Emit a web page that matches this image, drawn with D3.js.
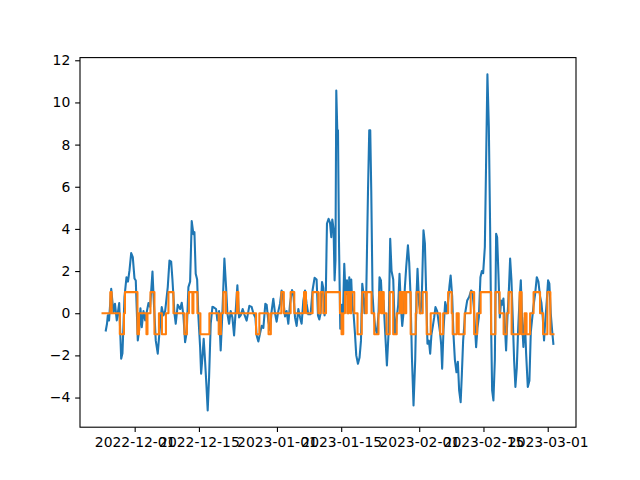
<!DOCTYPE html>
<html><head><meta charset="utf-8">
<script src="https://cdn.jsdelivr.net/npm/d3@7"></script>
<style>
body{margin:0;background:#fff}
text{font-family:"DejaVu Sans",sans-serif;font-size:13.9px;fill:#000}
</style></head>
<body><svg id="c" width="640" height="480"></svg>
<script>
const startDate = "2022-11-24";
const blueDays = [0.71,0.97,1.15,1.41,1.89,2.17,2.39,2.71,3.10,3.63,4.06,4.34,4.78,5.22,5.54,5.87,6.24,6.59,6.96,7.24,7.68,7.98,8.26,8.55,8.92,9.29,10.00,10.37,10.88,11.16,11.59,12.03,12.33,12.90,13.27,13.64,14.21,14.58,14.95,15.23,15.66,15.95,16.38,16.91,17.25,17.62,17.99,18.34,18.71,19.08,19.43,19.80,20.02,20.30,20.61,20.89,21.26,21.48,21.76,22.04,22.35,22.63,22.91,23.22,23.57,23.94,24.15,24.74,25.02,25.39,25.74,26.11,26.55,26.92,27.20,27.57,27.92,28.29,28.66,29.01,29.38,29.75,30.10,30.53,30.90,31.40,31.99,32.49,32.86,33.30,33.58,33.95,34.32,34.67,35.04,35.47,35.76,36.13,36.50,36.84,37.21,37.58,37.93,38.30,38.67,39.02,39.39,39.76,40.11,40.48,40.85,41.29,41.57,41.94,42.29,42.66,43.03,43.38,43.75,44.12,44.46,44.83,45.33,45.77,46.20,46.64,46.94,47.23,47.51,47.82,48.10,48.38,48.60,48.90,49.25,49.56,49.84,50.06,50.34,50.56,50.75,50.93,51.15,51.30,51.52,51.80,52.08,52.39,52.67,52.95,53.26,53.54,53.76,53.98,54.19,54.41,54.69,55.00,55.28,55.65,56.00,56.31,56.59,56.87,57.09,57.46,57.83,58.11,58.33,58.55,58.83,59.05,59.42,59.79,60.14,60.35,60.66,60.94,61.23,61.60,61.96,62.31,62.68,62.97,63.34,63.71,64.06,64.42,64.71,65.01,65.30,65.58,65.88,66.17,66.54,66.82,67.10,67.41,67.76,68.13,68.41,68.63,68.99,69.28,69.58,69.93,70.24,70.59,70.80,71.11,71.39,71.67,71.98,72.26,72.54,72.91,73.28,73.57,73.79,74.00,74.29,74.66,75.03,75.31,75.59,75.85,76.18,76.46,76.77,77.12,77.42,77.70,78.03,78.29,78.57,79.01,79.45,79.88,80.31,80.60,80.90,81.40,81.69,81.99,82.34,82.65,82.93,83.30,83.58,83.86,84.17,84.45,84.67,84.89,85.17,85.48,85.76,85.98,86.26,86.56,86.85,87.13,87.35,87.65,87.93,88.22,88.52,88.81,89.09,89.39,89.68,89.96,90.26,90.55,90.83,91.14,91.42,91.70,92.01,92.29,92.66,93.01,93.31,93.59,93.88,94.25,94.62,94.97,95.33,95.62,95.92,96.20,96.49,96.80,97.08,97.36,97.66,97.95,98.23];
const blueValues = [-0.82,-0.5,-0.1,-0.35,1.16,0.5,0.05,0.45,-0.34,0.48,-2.16,-1.9,0.77,1.71,1.5,2.03,2.85,2.66,1.65,1.55,-1.29,-0.8,0.23,-0.66,0.1,-0.34,0.48,0.3,1.98,0.6,-1.29,-1.92,-1.1,0.29,-0.1,0.1,1.24,2.5,2.45,1.6,0.0,-0.5,0.4,0.2,0.5,-0.1,-1.37,-0.9,1.24,1.5,4.37,3.75,3.85,1.87,1.6,-0.18,-1.6,-2.87,-2.1,-1.21,-2.3,-3.4,-4.61,-3.0,-0.5,0.3,0.29,0.2,-0.34,0.1,-1.77,0.0,2.59,1.23,0.0,-0.5,0.1,-0.2,-1.05,0.1,1.32,-0.2,-0.1,0.2,-0.05,-0.35,0.35,0.3,0.0,-0.2,-1.05,-1.34,-0.95,-0.6,-0.7,0.45,0.4,-0.4,-0.8,0.1,0.69,0.0,-0.4,0.1,0.45,1.08,0.6,-0.15,0.1,-0.5,0.45,1.1,0.95,-0.2,-0.6,0.2,-0.2,-0.5,0.6,1.08,0.45,-0.05,-0.05,1.1,1.68,1.6,-0.1,-0.3,0.0,1.48,1.2,-0.1,0.3,4.25,4.48,4.3,3.61,4.45,4.0,1.56,2.5,10.57,8.68,8.68,3.4,-0.74,0.4,-0.1,2.35,0.9,1.56,0.0,1.7,0.6,1.6,0.4,0.0,-0.97,-2.0,-2.4,-2.1,-1.3,1.4,0.9,0.0,0.9,5.67,8.68,8.68,5.83,0.9,0.1,-0.7,-0.97,0.0,1.71,1.56,0.3,0.6,-0.97,-2.48,-0.97,3.53,2.0,1.6,-0.97,-0.3,0.4,1.87,0.3,-0.6,0.0,1.24,2.2,3.22,2.4,0.9,-2.08,-4.38,-2.2,0.8,2.11,0.4,0.0,0.9,3.93,3.3,0.3,-1.45,-1.3,-1.92,-1.0,-0.6,-0.2,0.29,0.1,-0.5,-0.97,-1.5,-2.63,-0.8,0.53,0.0,0.6,1.3,1.79,0.8,-1.0,-2.2,-2.8,-2.3,-3.66,-4.22,-2.9,-1.3,0.0,0.6,0.77,1.08,1.0,0.3,-1.61,-0.7,-0.2,1.71,2.0,1.9,3.14,7.25,11.33,8.83,4.09,-0.66,-3.66,-4.14,-2.2,3.77,3.6,1.87,-0.2,0.6,0.4,0.7,-0.5,-1.77,-0.2,1.0,2.59,1.6,-0.3,-2.24,-3.5,-2.6,-0.8,0.5,1.56,-0.4,-1.6,-0.2,-1.9,-3.5,-3.2,-0.9,-0.3,0.3,0.9,1.71,1.5,0.8,0.5,-0.2,-1.29,-0.3,0.6,1.56,1.4,0.0,-0.8,-1.45];
const orangeDays = [0,1.69,1.99,3.76,4.67,4.89,7.61,7.94,9.57,9.79,10.44,11.31,12.29,12.94,13.81,14.36,15.45,17.84,18.38,18.82,19.58,19.80,20.67,21.32,23.28,25.31,25.79,26.33,26.87,29.27,29.60,33.45,34.17,36.17,36.67,38.96,39.50,40.98,41.78,43.90,44.33,45.77,47.01,47.51,48.10,48.69,51.73,52.08,52.45,52.82,53.32,53.54,53.98,54.19,54.85,55.56,56.48,56.59,57.31,57.57,58.61,59.20,60.13,60.29,60.72,60.94,61.27,61.88,62.57,63.33,64.10,64.75,65.19,65.41,65.88,66.17,67.14,68.23,68.41,69.10,69.76,70.63,71.50,73.57,74.22,75.31,76.07,76.29,77.16,77.61,78.90,80.21,80.97,81.62,82.38,84.67,85.60,86.52,87.39,88.04,88.48,89.13,90.87,91.31,91.96,92.39,93.16,93.92,95.33,95.99,96.92,97.58,98.25];
const orangeValues = [0,1,0,-1,0,1,-1,0,-1,0,1,-1,0,-1,0,1,0,-1,0,1,0,1,0,-1,0,-1,0,1,0,1,0,-1,0,-1,0,1,0,1,0,1,0,1,0,1,0,1,0,-1,0,1,0,1,0,1,0,-1,0,1,0,1,0,-1,0,1,0,1,0,-1,1,-1,0,1,0,1,0,1,-1,0,1,0,1,-1,0,-1,0,1,0,-1,0,-1,0,1,-1,0,1,-1,1,0,-1,0,1,-1,1,-1,0,-1,0,1,0,-1,1,-1,-1];
const xTickDates = ["2022-12-01","2022-12-15","2023-01-01","2023-01-15","2023-02-01","2023-02-15","2023-03-01"];
const yTickValues = [-4,-2,0,2,4,6,8,10,12];

const DAY = 86400000;
const t0 = Date.parse(startDate + "T00:00:00Z");
const toDate = d => new Date(t0 + d * DAY);
const blue = blueDays.map((d, i) => ({t: toDate(d), v: blueValues[i]}));
const orange = orangeDays.map((d, i) => ({t: toDate(d), v: orangeValues[i]}));

const L = 80, R = 576, T = 57.6, B = 427.2;
const svg = d3.select("#c");

const allT = blue.concat(orange).map(p => +p.t);
const tMin = d3.min(allT), tMax = d3.max(allT), tPad = (tMax - tMin) * 0.05;
const allV = blue.concat(orange).map(p => p.v);
const vMin = d3.min(allV), vMax = d3.max(allV), vPad = (vMax - vMin) * 0.05;

const x = d3.scaleUtc().domain([new Date(tMin - tPad), new Date(tMax + tPad)]).range([L, R]);
const y = d3.scaleLinear().domain([vMin - vPad, vMax + vPad]).range([B, T]);

const clip = svg.append("clipPath").attr("id", "clip").append("rect")
  .attr("x", L).attr("y", T).attr("width", R - L).attr("height", B - T);

const g = svg.append("g").attr("clip-path", "url(#clip)");
g.append("path").datum(blue)
  .attr("fill", "none").attr("stroke", "#1f77b4").attr("stroke-width", 2.08)
  .attr("stroke-linejoin", "round").attr("stroke-linecap", "square")
  .attr("d", d3.line().x(p => x(p.t)).y(p => y(p.v)));
g.append("path").datum(orange)
  .attr("fill", "none").attr("stroke", "#ff7f0e").attr("stroke-width", 2.08)
  .attr("stroke-linejoin", "round").attr("stroke-linecap", "square")
  .attr("d", d3.line().curve(d3.curveStepAfter).x(p => x(p.t)).y(p => y(p.v)));

const fmt = d3.utcFormat("%Y-%m-%d");
const xAxis = d3.axisBottom(x)
  .tickValues(xTickDates.map(s => new Date(Date.parse(s + "T00:00:00Z"))))
  .tickFormat(fmt).tickSizeOuter(0).tickSize(4.86).tickPadding(4.86);
const gx = svg.append("g").attr("transform", `translate(0,${B})`).call(xAxis);
const yAxis = d3.axisLeft(y).tickValues(yTickValues)
  .tickFormat(v => (v < 0 ? "\u2212" : "") + Math.abs(v))
  .tickSizeOuter(0).tickSize(4.86).tickPadding(4.86);
const gy = svg.append("g").attr("transform", `translate(${L},0)`).call(yAxis);
[gx, gy].forEach(a => {
  a.select(".domain").remove();
  a.selectAll(".tick line").attr("stroke", "#000").attr("stroke-width", 1.1);
  a.selectAll(".tick text").attr("font-family", "DejaVu Sans").attr("font-size", 13.9).attr("fill", "#000");
});

svg.append("rect").attr("x", L).attr("y", T).attr("width", R - L).attr("height", B - T)
  .attr("fill", "none").attr("stroke", "#000").attr("stroke-width", 1.1);
</script></body></html>
